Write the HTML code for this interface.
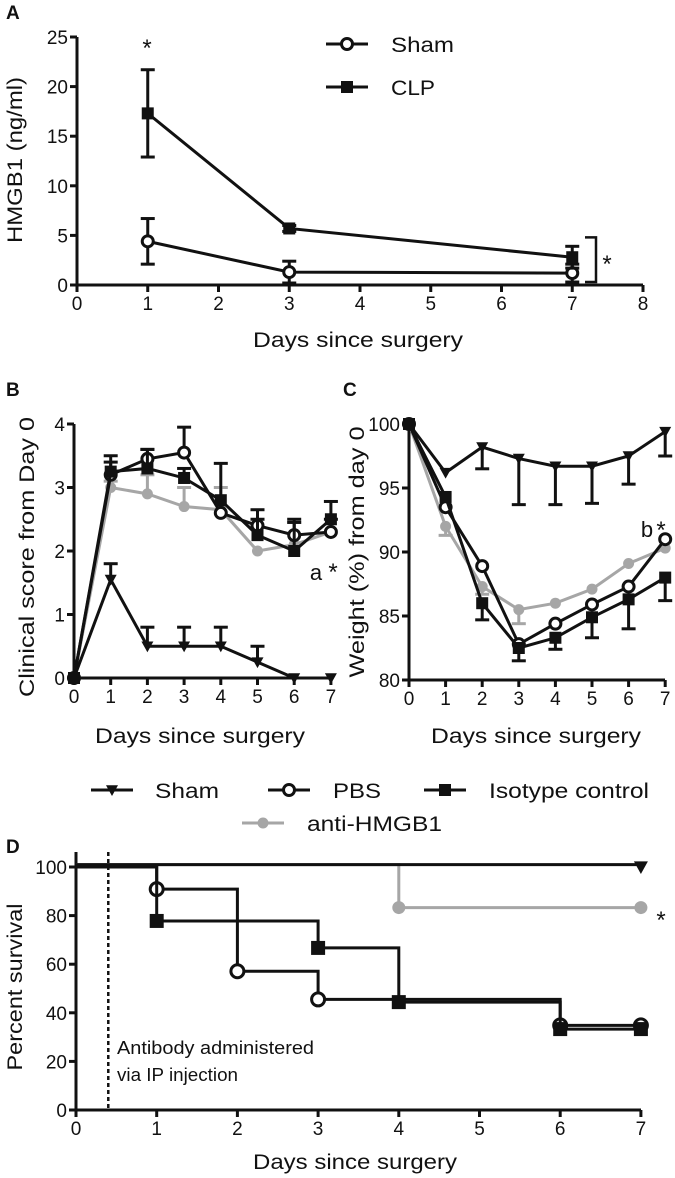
<!DOCTYPE html>
<html><head><meta charset="utf-8"><style>
html,body{margin:0;padding:0;background:#fff;}
svg{display:block;font-family:"Liberation Sans",Arial,sans-serif;}
</style></head><body>
<svg id="fig" width="675" height="1178" viewBox="0 0 675 1178" xmlns="http://www.w3.org/2000/svg"></svg>
<script>
// ---------- Panel A data ----------
const aDays = [1, 3, 7];
const aSham = [4.4, 1.3, 1.2];
const aShamErr = [2.3, 1.1, 0.9];
const aCLP = [17.3, 5.7, 2.8];
const aCLPErr = [4.4, 0.3, 1.1];
const aXTicks = [0,1,2,3,4,5,6,7,8];
const aYTicks = [0,5,10,15,20,25];
// ---------- Panel B data ----------
const bDays = [0,1,2,3,4,5,6,7];
const bSham = [0,1.55,0.5,0.5,0.5,0.25,0,0];
const bShamErr = [0,0.25,0.3,0.3,0.3,0.25,0,0];
const bPBS = [0,3.2,3.45,3.55,2.6,2.4,2.25,2.3];
const bPBSErr = [0,0.2,0.15,0.4,0,0.25,0.25,0.2];
const bIso = [0,3.25,3.3,3.15,2.8,2.25,2.0,2.5];
const bIsoErr = [0,0.25,0.3,0.15,0.58,0.25,0.45,0.28];
const bAnti = [0,3.0,2.9,2.7,2.65,2.0,2.1,2.3];
const bAntiErr = [0,0.1,0.3,0.3,0.35,0,0.35,0];
const bYTicks = [0,1,2,3,4];
// ---------- Panel C data ----------
const cSham = [100,96.2,98.2,97.3,96.7,96.7,97.5,99.4];
const cShamErr = [0,0,1.7,3.6,3.0,2.9,2.2,1.9];
const cPBS = [100,93.5,88.9,82.8,84.4,85.9,87.3,91.0];
const cPBSErr = [0,0,0,0,0,0,0,0];
const cIso = [100,94.3,86.0,82.5,83.3,84.9,86.3,88.0];
const cIsoErr = [0,0,1.3,1.0,0.9,1.6,2.3,1.8];
const cAnti = [100,92.0,87.3,85.5,86.0,87.1,89.1,90.3];
const cAntiErr = [0,0.7,0.6,1.1,0,0,0,0];
const cYTicks = [80,85,90,95,100];
// ---------- Panel D data ----------
const dSteps = [0,1,2,3,4,6,7];
const dSham = [101,101,101,101,101,101,100];
const dPBS = [100,90.9,57.1,45.5,45.5,34.8,34.8];
const dIso = [100,77.8,77.8,66.7,44.4,33.3,33.3];
const dAnti = [101,101,101,101,83.3,83.3,83.3];
const dPBSMarks = [1,2,3,6,7];
const dIsoMarks = [1,3,4,6,7];
const dAntiMarks = [4,7];
const dXTicks = [0,1,2,3,4,5,6,7];
const dYTicks = [0,20,40,60,80,100];

const NS = "http://www.w3.org/2000/svg";
const svg = document.getElementById('fig');
function el(tag, attrs, parent, text){
  const e = document.createElementNS(NS, tag);
  for (const k in attrs) e.setAttribute(k, attrs[k]);
  if (text !== undefined) e.textContent = text;
  (parent || svg).appendChild(e);
  return e;
}
function group(name){
  const g = el('g', {});
  
  
  return g;
}
function txt(g, x, y, s, size, anchor, name, extra){
  const t = el('text', Object.assign({x:x, y:y, 'font-size':size, 'text-anchor':anchor||'middle', fill:'#111'}, extra||{}), g, s);
  
  
  return t;
}
function fit(len){ return {textLength:len, lengthAdjust:'spacingAndGlyphs'}; }
function marker(g, type, x, y, color, r){
  r = r || 6;
  let m;
  if (type === 'circle') m = el('circle', {cx:x, cy:y, r:r-0.5, fill:'#fff', stroke:color, 'stroke-width':3}, g);
  else if (type === 'dot') m = el('circle', {cx:x, cy:y, r:r-0.5, fill:color}, g);
  else if (type === 'square') m = el('rect', {x:x-r, y:y-r, width:2*r, height:2*r, fill:color}, g);
  else m = el('path', {d:`M${x-r},${y-r*0.8}L${x+r},${y-r*0.8}L${x},${y+r}Z`, fill:color}, g);
  
  
}
function series(g, xs, ys, xf, yf, color, type, err, dir, name){
  const sg = el('g', {}, g);
  
  
  if (err) xs.forEach((d,i)=>{
    if (!err[i]) return;
    const x = xf(d), y0 = yf(ys[i]);
    const ds = dir === 'both' ? [1,-1] : [dir === 'up' ? 1 : -1];
    ds.forEach(s=>{
      const y1 = yf(ys[i] + s*err[i]);
      el('line', {x1:x, y1:y0, x2:x, y2:y1, stroke:color, 'stroke-width':3}, sg);
      el('line', {x1:x-7, y1:y1, x2:x+7, y2:y1, stroke:color, 'stroke-width':3}, sg);
    });
  });
  const pts = xs.map((d,i)=>xf(d)+','+yf(ys[i])).join(' ');
  const pl = el('polyline', {points:pts, fill:'none', stroke:color, 'stroke-width':3}, sg);
  
  
  xs.forEach((d,i)=>marker(sg, type, xf(d), yf(ys[i]), color));
}
function axes(g, x0, x1, yTop, yBot, xTicks, xf, yTicks, yf, fs){
  el('line', {x1:x0, y1:yTop, x2:x0, y2:yBot+1.5, stroke:'#111', 'stroke-width':3}, g);
  el('line', {x1:x0-1.5, y1:yBot, x2:x1, y2:yBot, stroke:'#111', 'stroke-width':3}, g);
  xTicks.forEach(t=>{
    el('line', {x1:xf(t), y1:yBot, x2:xf(t), y2:yBot+7, stroke:'#111', 'stroke-width':3}, g);
    txt(g, xf(t), yBot+25, t, fs, 'middle', 'x-tick-label');
  });
  yTicks.forEach(t=>{
    el('line', {x1:x0-7, y1:yf(t), x2:x0, y2:yf(t), stroke:'#111', 'stroke-width':3}, g);
    txt(g, x0-9, yf(t)+7, t, fs, 'end', 'y-tick-label');
  });
}
const GRAY = '#a6a6a6';

// ---------- Panel A ----------
(function(){
  const g = group('panel-a');
  const xf = d => 77 + d*70.75, yf = v => 285 - v*9.92;
  txt(g, 6, 19, 'A', 19, 'start', 'panel-label-a', {'font-weight':'bold'});
  axes(g, 77, 643, 37, 285, aXTicks, xf, aYTicks, yf, 19);
  txt(g, 358, 347, 'Days since surgery', 21, 'middle', 'x-axis-title', fit(210));
  txt(g, 0, 0, 'HMGB1 (ng/ml)', 21, 'middle', 'y-axis-title', Object.assign({transform:'translate(22,160) rotate(-90)'}, fit(166)));
  series(g, aDays, aSham, xf, yf, '#111', 'circle', aShamErr, 'both', 'series-sham');
  series(g, aDays, aCLP, xf, yf, '#111', 'square', aCLPErr, 'both', 'series-clp');
  txt(g, 147, 56, '*', 24, 'middle', 'significance-star');
  el('path', {d:`M${585},${yf(4.8)}L${596},${yf(4.8)}L${596},${yf(0.3)}L${585},${yf(0.3)}`, fill:'none', stroke:'#111', 'stroke-width':2.5}, g);
  txt(g, 607, 272, '*', 24, 'middle', 'significance-star');
  const lg = el('g', {}, g);  
  el('line', {x1:326, y1:44, x2:368, y2:44, stroke:'#111', 'stroke-width':3}, lg);
  marker(lg, 'circle', 347, 44, '#111');
  txt(lg, 391, 52, 'Sham', 21, 'start', 'legend-entry-sham', fit(63));
  el('line', {x1:326, y1:87, x2:368, y2:87, stroke:'#111', 'stroke-width':3}, lg);
  marker(lg, 'square', 347, 87, '#111');
  txt(lg, 391, 95, 'CLP', 21, 'start', 'legend-entry-clp', fit(44));
})();

// ---------- Panel B ----------
(function(){
  const g = group('panel-b');
  const xf = d => 74 + d*36.7, yf = v => 678 - v*63.5;
  txt(g, 6, 396, 'B', 19, 'start', 'panel-label-b', {'font-weight':'bold'});
  axes(g, 74, 331, 424, 678, bDays, xf, bYTicks, yf, 19);
  txt(g, 200, 743, 'Days since surgery', 21, 'middle', 'x-axis-title', fit(210));
  txt(g, 0, 0, 'Clinical score from Day 0', 21, 'middle', 'y-axis-title', Object.assign({transform:'translate(34,557) rotate(-90)'}, fit(280)));
  series(g, bDays, bAnti, xf, yf, GRAY, 'dot', bAntiErr, 'up', 'series-anti-hmgb1');
  series(g, bDays, bSham, xf, yf, '#111', 'tri', bShamErr, 'up', 'series-sham');
  series(g, bDays, bPBS, xf, yf, '#111', 'circle', bPBSErr, 'up', 'series-pbs');
  series(g, bDays, bIso, xf, yf, '#111', 'square', bIsoErr, 'up', 'series-isotype');
  txt(g, 316, 580, 'a', 22, 'middle', 'annotation-a');
  txt(g, 333, 580, '*', 24, 'middle', 'significance-star');
})();

// ---------- Panel C ----------
(function(){
  const g = group('panel-c');
  const xf = d => 409 + d*36.6, yf = v => 680 - (v-80)*12.8;
  txt(g, 343, 396, 'C', 19, 'start', 'panel-label-c', {'font-weight':'bold'});
  axes(g, 409, 665, 424, 680, bDays, xf, cYTicks, yf, 19);
  txt(g, 536, 743, 'Days since surgery', 21, 'middle', 'x-axis-title', fit(210));
  txt(g, 0, 0, 'Weight (%) from day 0', 21, 'middle', 'y-axis-title', Object.assign({transform:'translate(364,552) rotate(-90)'}, fit(251)));
  series(g, bDays, cAnti, xf, yf, GRAY, 'dot', cAntiErr, 'down', 'series-anti-hmgb1');
  series(g, bDays, cSham, xf, yf, '#111', 'tri', cShamErr, 'down', 'series-sham');
  series(g, bDays, cPBS, xf, yf, '#111', 'circle', cPBSErr, 'down', 'series-pbs');
  series(g, bDays, cIso, xf, yf, '#111', 'square', cIsoErr, 'down', 'series-isotype');
  txt(g, 647, 537, 'b', 22, 'middle', 'annotation-b');
  txt(g, 661, 538, '*', 24, 'middle', 'significance-star');
})();

// ---------- Legend B/C ----------
(function(){
  const g = group('legend-bc');
  const items = [[91,790,'tri','#111','Sham',155,'legend-entry-sham',64],[268,790,'circle','#111','PBS',333,'legend-entry-pbs',48],[424,790,'square','#111','Isotype control',489,'legend-entry-isotype',160],[242,823,'dot',GRAY,'anti-HMGB1',307,'legend-entry-anti-hmgb1',135]];
  items.forEach(it=>{
    el('line', {x1:it[0], y1:it[1], x2:it[0]+42, y2:it[1], stroke:it[3], 'stroke-width':3}, g);
    marker(g, it[2], it[0]+21, it[1], it[3]);
    txt(g, it[5], it[1]+8, it[4], 21, 'start', it[6], fit(it[7]));
  });
})();

// ---------- Panel D ----------
(function(){
  const g = group('panel-d');
  const xf = d => 76 + d*80.7, yf = v => 1110 - v*2.43;
  txt(g, 6, 853, 'D', 19, 'start', 'panel-label-d', {'font-weight':'bold'});
  axes(g, 76, 641, 852, 1110, dXTicks, xf, dYTicks, yf, 19);
  txt(g, 355, 1169, 'Days since surgery', 21, 'middle', 'x-axis-title', fit(204));
  txt(g, 0, 0, 'Percent survival', 21, 'middle', 'y-axis-title', Object.assign({transform:'translate(22,987) rotate(-90)'}, fit(167)));
  const dl = el('line', {x1:xf(0.4), y1:852, x2:xf(0.4), y2:1110, stroke:'#111', 'stroke-width':2.5, 'stroke-dasharray':'4,3'}, g);
   
  txt(g, 117, 1054, 'Antibody administered', 18, 'start', 'annotation-antibody', fit(197));
  txt(g, 117, 1081, 'via IP injection', 18, 'start', 'annotation-ip', fit(121));
  function step(xs, ys, color, name, marks, type){
    const sg = el('g', {}, g);
     
    let d = `M${xf(xs[0])},${yf(ys[0])}`;
    for (let i=1;i<xs.length;i++){ d += `L${xf(xs[i])},${yf(ys[i-1])}L${xf(xs[i])},${yf(ys[i])}`; }
    el('path', {d:d, fill:'none', stroke:color, 'stroke-width':3}, sg);
    marks.forEach(m=>{ const i = xs.indexOf(m); marker(sg, type, xf(m), yf(ys[i]), color, 7); });
  }
  step(dSteps, dAnti, GRAY, 'series-anti-hmgb1', dAntiMarks, 'dot');
  step(dSteps, dSham, '#111', 'series-sham', [7], 'tri');
  step(dSteps, dPBS, '#111', 'series-pbs', dPBSMarks, 'circle');
  step(dSteps, dIso, '#111', 'series-isotype', dIsoMarks, 'square');
  txt(g, 661, 928, '*', 24, 'middle', 'significance-star');
})();
</script>
</body></html>
